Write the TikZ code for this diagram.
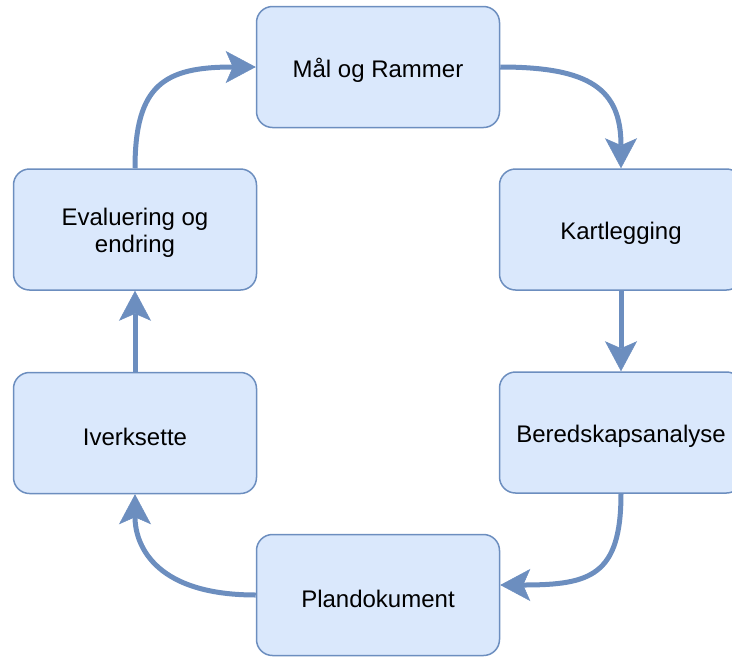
\documentclass[tikz,border=0pt]{standalone}
\usepackage{fontspec}
\setmainfont{Liberation Sans}
\usetikzlibrary{arrows.meta}
\definecolor{boxfill}{HTML}{DAE8FC}
\definecolor{boxline}{HTML}{6C8EBF}
% set a line a little lower while keeping its measured size
\newcommand{\dropline}[1]{\raisebox{-3.5pt}[\height][\depth]{#1}}
\begin{document}
\begin{tikzpicture}[x=1pt,y=-1pt,
  stage/.style={draw=boxline, fill=boxfill, line width=1.5pt, rounded corners=16pt,
    minimum width=243pt, minimum height=121pt, inner sep=0pt, align=center,
    font=\fontsize{24}{27}\selectfont, text=black},
  flow/.style={draw=boxline, line width=5pt,
    -{Stealth[length=30pt,width=32pt,inset=7pt,line width=0.5pt]}}]
\useasboundingbox (0,0) rectangle (732,657);

% stages of the cycle
\node[stage] (mal)   at (378,67)    {\dropline{Mål og Rammer}};
\node[stage] (kart)  at (621,229.5) {\dropline{Kartlegging}};
\node[stage] (bered) at (621,432.5) {\dropline{Beredskapsanalyse}};
\node[stage] (plan)  at (378,595)   {\dropline{Plandokument}};
\node[stage] (iver)  at (135,433)   {\dropline{Iverksette}};
\node[stage] (eval)  at (135,229.5) {\dropline{Evaluering og}\\\dropline{endring}};

% entry point on the right side of Plandokument, slightly above centre
\coordinate (planin) at ([yshift=10pt]plan.east);

% connectors around the cycle
\draw[flow] (mal.east) .. controls ++(90,0) and ++(0,-79) .. (kart.north);
\draw[flow] (kart.south) -- (bered.north);
\draw[flow] (bered.south) .. controls ++(0,82) and ++(90,0) .. (planin);
\draw[flow] (plan.west) .. controls ++(-106,0) and ++(0,46) .. (iver.south);
\draw[flow] (iver.north) -- (eval.south);
\draw[flow] (eval.north) .. controls ++(0,-84) and ++(-91,0) .. (mal.west);
\end{tikzpicture}
\end{document}
